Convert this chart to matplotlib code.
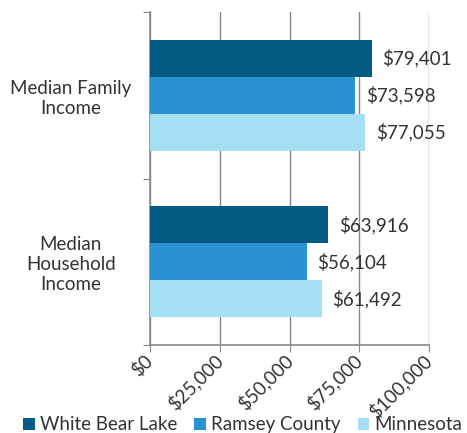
import matplotlib.pyplot as plt
import numpy as np

plt.rcParams['font.family'] = ['Lato', 'DejaVu Sans']

categories = ['Median\nHousehold\nIncome', 'Median Family\nIncome']
series = ['White Bear Lake', 'Ramsey County', 'Minnesota']
values = {
    'White Bear Lake': [63916, 79401],
    'Ramsey County': [56104, 73598],
    'Minnesota': [61492, 77055],
}
colors = ['#035B83', '#2A91D3', '#A6DFF3']
xticks = [0, 25000, 50000, 75000, 100000]

fig = plt.figure(figsize=(4.67, 4.33), dpi=100)
ax = fig.add_axes([0.321, 0.203, 0.598, 0.769])

y = np.arange(len(categories))
h = 0.222
for i, name in enumerate(series):
    pos = y + (1 - i) * h
    bars = ax.barh(pos, values[name], height=h, color=colors[i], label=name, zorder=3)
    for b, v in zip(bars, values[name]):
        ax.text(v + 3800, b.get_y() + h / 2, '${:,}'.format(v), va='center', ha='left',
                fontsize=13.5, color='#333333')

ax.set_xlim(0, 100000)
ax.set_ylim(-0.5, 1.5)
ax.set_xticks(xticks)
ax.set_xticklabels(['${:,}'.format(t) for t in xticks], rotation=45, ha='right', va='center',
                   rotation_mode='anchor', fontsize=13.5, color='#333333')
ax.set_yticks([-0.5, 0.5, 1.5])
ax.set_yticklabels([])
ax.set_yticks(y, minor=True)
ax.set_yticklabels(categories, minor=True, fontsize=13.5, color='#333333', ha='center',
                   multialignment='center')
ax.tick_params(axis='y', which='minor', length=0, pad=57)
ax.tick_params(axis='y', which='major', length=5, color='#888888')
ax.tick_params(axis='x', length=5, color='#888888', pad=4)
ax.grid(axis='x', color='#888888', linewidth=1, zorder=0)
for s in ['top', 'right']:
    ax.spines[s].set_visible(False)
for s in ['left', 'bottom']:
    ax.spines[s].set_color('#888888')
    ax.spines[s].set_linewidth(1.2)

fig.legend(loc='lower center', bbox_to_anchor=(0.52, -0.04), ncol=3, frameon=False,
           fontsize=13.5, handlelength=0.6, handleheight=0.6, handletextpad=0.3,
           columnspacing=0.9, labelcolor='#333333')

fig.savefig('out.png', dpi=100)
